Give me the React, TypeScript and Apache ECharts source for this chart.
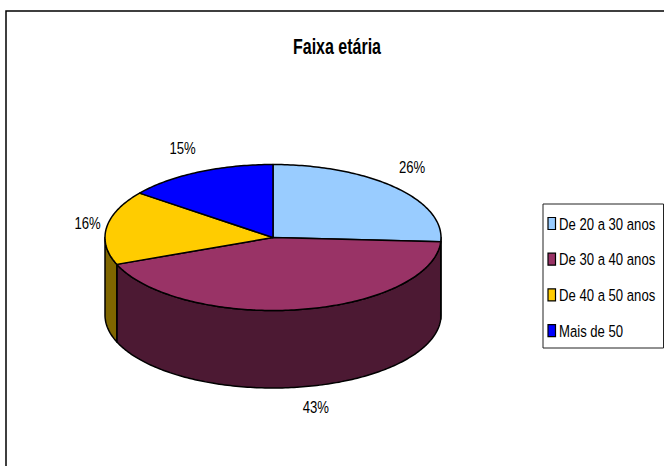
import React, { useEffect, useRef } from "react";
import * as echarts from "echarts";

const TITLE = "Faixa etária";
const categories = ["De 20 a 30 anos", "De 30 a 40 anos", "De 40 a 50 anos", "Mais de 50"];
const values = [25.9, 43.1, 16.4, 14.6];
const topColors = ["#99CCFF", "#993366", "#FFCC00", "#0000FF"];
const sideColors = ["#4C667F", "#4C1933", "#7F6600", "#00007F"];

const FONT = '"Liberation Sans", Arial, sans-serif';
const NARROW = 0.772;
const TITLE_NARROW = 0.727;
const CX = 273;
const CY = 237.5;
const RX = 168;
const RY = 73;
const DEPTH = 77.5;
const labelNudge = [[17, -21], [16, 20], [-19, -5], [-16, -24]];
const LEGEND = { x: 543, y: 204, w: 120.5, h: 144, firstRow: 223.5, rowGap: 35.7 };

const total = values.reduce((a, b) => a + b, 0);
const rad = (d: number) => (d * Math.PI) / 180;
const pt = (deg: number, dy = 0): number[] => [
  CX + RX * Math.sin(rad(deg)),
  CY - RY * Math.cos(rad(deg)) + dy,
];
const arc = (from: number, to: number, dy = 0): number[][] => {
  const out: number[][] = [];
  const steps = Math.max(2, Math.ceil(Math.abs(to - from)));
  for (let i = 0; i <= steps; i++) out.push(pt(from + ((to - from) * i) / steps, dy));
  return out;
};

function makeRender(index: number) {
  return (_params: any, api: any) => {
    const value = api.value(0);
    const before = api.value(1);
    const start = (before / total) * 360;
    const end = ((before + value) / total) * 360;
    const mid = (start + end) / 2;
    const children: any[] = [];
    const s = Math.max(start, 90);
    const e = Math.min(end, 270);
    if (e > s) {
      children.push({
        type: "polygon",
        z2: 1,
        shape: { points: [...arc(s, e), ...arc(e, s, DEPTH)] },
        style: { fill: sideColors[index], stroke: "#000", lineWidth: 1.5, lineJoin: "round" },
      });
    }
    children.push({
      type: "polygon",
      z2: 2,
      shape: { points: [[CX, CY], ...arc(start, end)] },
      style: { fill: api.visual("color"), stroke: "#000", lineWidth: 1.5, lineJoin: "round" },
    });
    const lower = Math.cos(rad(mid)) < 0 && Math.abs(Math.sin(rad(mid))) < 0.95;
    const anchor = pt(mid, lower ? DEPTH : 0);
    children.push({
      type: "text",
      z2: 3,
      x: anchor[0] + labelNudge[index][0],
      y: anchor[1] + labelNudge[index][1],
      scaleX: NARROW,
      style: {
        text: `${Math.round((value / total) * 100)}%`,
        fill: "#000",
        font: `17px ${FONT}`,
        align: "center",
        verticalAlign: "middle",
      },
    });
    return { type: "group", children };
  };
}

const legendElements = (): any[] => {
  const els: any[] = [
    {
      type: "rect",
      silent: true,
      shape: { x: LEGEND.x, y: LEGEND.y, width: LEGEND.w, height: LEGEND.h },
      style: { fill: "#fff", stroke: "#222", lineWidth: 1 },
    },
  ];
  categories.forEach((name, i) => {
    const cy = LEGEND.firstRow + i * LEGEND.rowGap;
    els.push({
      type: "rect",
      silent: true,
      shape: { x: 548, y: cy - 6, width: 7.5, height: 12 },
      style: { fill: topColors[i], stroke: "#000", lineWidth: 1.2 },
    });
    els.push({
      type: "text",
      silent: true,
      x: 559,
      y: cy,
      scaleX: NARROW,
      style: {
        text: name,
        fill: "#000",
        font: `17px ${FONT}`,
        align: "left",
        verticalAlign: "middle",
      },
    });
  });
  return els;
};

export default function App() {
  const ref = useRef<HTMLDivElement>(null);
  useEffect(() => {
    document.body.style.margin = "0";
    document.body.style.overflow = "hidden";
    const chart = echarts.init(ref.current!, null, { renderer: "svg" });
    let running = 0;
    chart.setOption({
      animation: false,
      backgroundColor: "#fff",
      graphic: [
        {
          type: "polyline",
          silent: true,
          shape: { points: [[6, 466], [6, 11], [664, 11]] },
          style: { stroke: "#000", lineWidth: 1.5, fill: "none" },
        },
        {
          type: "text",
          silent: true,
          x: 337,
          y: 47,
          scaleX: TITLE_NARROW,
          style: {
            text: TITLE,
            fill: "#000",
            font: `bold 22px ${FONT}`,
            align: "center",
            verticalAlign: "middle",
          },
        },
        ...legendElements(),
      ],
      series: categories.map((name, i) => {
        const before = running;
        running += values[i];
        return {
          type: "custom",
          name,
          coordinateSystem: "none",
          itemStyle: { color: topColors[i] },
          data: [[values[i], before]],
          renderItem: makeRender(i),
        };
      }),
    });
    return () => chart.dispose();
  }, []);
  return <div ref={ref} style={{ width: 664, height: 466 }} />;
}
